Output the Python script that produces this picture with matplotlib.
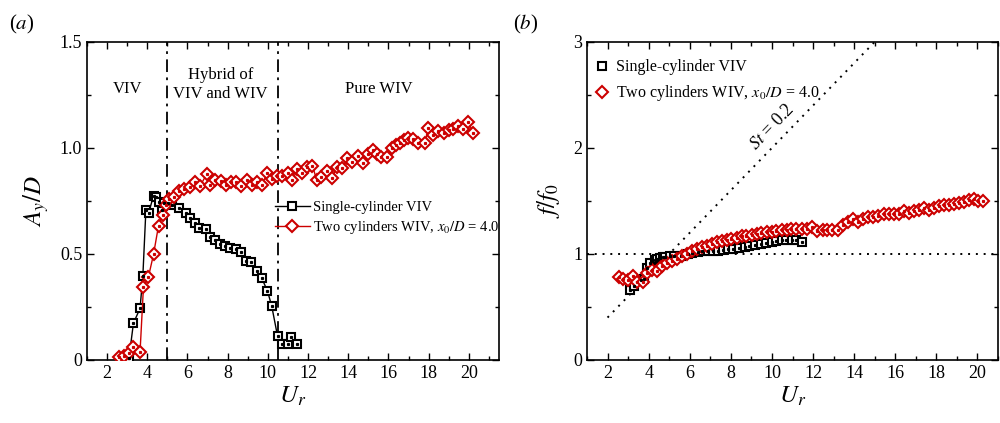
import matplotlib
matplotlib.use('Agg')
import matplotlib.pyplot as plt
from matplotlib.ticker import MultipleLocator

plt.rcParams['font.family'] = ['Liberation Serif', 'DejaVu Serif']
plt.rcParams['mathtext.fontset'] = 'stix'

RED = '#cc0000'

# single-cylinder VIV
ur_single = [3.09, 3.31, 3.64, 3.78, 3.93, 4.07, 4.31, 4.42, 4.57, 4.71, 4.81, 5.03,
             5.25, 5.58, 5.92, 6.11, 6.38, 6.58, 6.91, 7.12, 7.37, 7.62, 7.87, 8.10,
             8.39, 8.67, 8.90, 9.18, 9.48, 9.70, 9.98, 10.19, 10.48, 10.69, 10.98,
             11.17, 11.44]
ay_single = [0.01, 0.173, 0.244, 0.398, 0.706, 0.695, 0.774, 0.767, 0.747, 0.708, 0.742, 0.74,
             0.731, 0.715, 0.695, 0.668, 0.645, 0.621, 0.617, 0.579, 0.566, 0.546, 0.538, 0.530,
             0.524, 0.511, 0.467, 0.461, 0.421, 0.385, 0.325, 0.255, 0.113, 0.074, 0.074,
             0.107, 0.074]
f_single = [0.66, 0.70, 0.75, 0.76, 0.87, 0.91, 0.94, 0.95, 0.96, 0.97, 0.975, 0.98,
            0.98, 0.985, 1.0, 1.01, 1.02, 1.025, 1.025, 1.025, 1.03, 1.04, 1.047, 1.05,
            1.057, 1.065, 1.072, 1.08, 1.09, 1.10, 1.11, 1.125, 1.13, 1.13, 1.135,
            1.135, 1.11]

# two cylinders WIV, amplitude
ur_two = [2.60, 2.82, 3.09, 3.31, 3.64, 3.81, 4.06, 4.31, 4.56, 4.76, 4.92, 5.08,
          5.33, 5.58, 5.83, 6.13, 6.38, 6.63, 6.96, 7.12, 7.37, 7.66, 7.91, 8.15,
          8.40, 8.65, 8.95, 9.20, 9.45, 9.70, 9.96, 10.21, 10.44, 10.69, 10.98, 11.22,
          11.47, 11.72, 11.97, 12.22, 12.43, 12.63, 12.93, 13.21, 13.43, 13.71, 13.96, 14.21,
          14.49, 14.74, 14.99, 15.23, 15.45, 15.65, 15.95, 16.16, 16.36, 16.56, 16.78, 16.98,
          17.24, 17.49, 17.82, 17.99, 18.24, 18.47, 18.74, 19.02, 19.23, 19.48, 19.73, 19.98,
          20.21]
ay_two = [0.016, 0.02, 0.032, 0.063, 0.039, 0.346, 0.393, 0.498, 0.634, 0.684, 0.731, 0.758,
          0.770, 0.798, 0.805, 0.815, 0.841, 0.821, 0.877, 0.825, 0.849, 0.846, 0.825, 0.841,
          0.841, 0.821, 0.849, 0.825, 0.841, 0.825, 0.880, 0.852, 0.868, 0.868, 0.880, 0.849,
          0.899, 0.884, 0.912, 0.915, 0.849, 0.865, 0.893, 0.857, 0.912, 0.904, 0.951, 0.935,
          0.962, 0.931, 0.972, 0.991, 0.972, 0.956, 0.959, 0.998, 1.014, 1.025, 1.038, 1.046,
          1.041, 1.022, 1.022, 1.093, 1.061, 1.081, 1.069, 1.085, 1.088, 1.101, 1.088, 1.124,
          1.069]

# two cylinders WIV, frequency
ur_two_f = [2.57, 2.76, 3.01, 3.25, 3.45, 3.71, 3.90, 4.15, 4.42, 4.63, 4.87, 5.12,
            5.36, 5.60, 5.85, 6.09, 6.33, 6.58, 6.82, 7.06, 7.31, 7.55, 7.79, 8.03,
            8.28, 8.52, 8.76, 9.01, 9.25, 9.49, 9.74, 9.98, 10.22, 10.47, 10.71, 10.95,
            11.19, 11.47, 11.71, 11.95, 12.21, 12.46, 12.70, 12.94, 13.19, 13.46, 13.70, 13.95,
            14.19, 14.43, 14.68, 14.92, 15.16, 15.44, 15.70, 15.94, 16.18, 16.43, 16.67, 16.91,
            17.15, 17.40, 17.64, 17.88, 18.13, 18.37, 18.61, 18.86, 19.10, 19.34, 19.59, 19.83,
            20.02, 20.27]
f_two = [0.78, 0.76, 0.757, 0.79, 0.74, 0.74, 0.82, 0.845, 0.835, 0.883, 0.915, 0.93,
         0.953, 0.977, 1.0, 1.025, 1.047, 1.066, 1.078, 1.097, 1.11, 1.126, 1.135, 1.145,
         1.154, 1.166, 1.173, 1.183, 1.189, 1.199, 1.204, 1.21, 1.214, 1.23, 1.23, 1.236,
         1.236, 1.236, 1.236, 1.252, 1.214, 1.223, 1.223, 1.223, 1.23, 1.277, 1.303, 1.325,
         1.303, 1.334, 1.35, 1.35, 1.362, 1.378, 1.378, 1.372, 1.372, 1.403, 1.388, 1.403,
         1.412, 1.435, 1.419, 1.435, 1.45, 1.46, 1.466, 1.473, 1.476, 1.488, 1.507, 1.52,
         1.498, 1.498]

boundaries = [5.0, 10.5]
st = 0.2
st_ur = [2.0, 16.0]

fig = plt.figure(figsize=(10, 4.23), dpi=100)
ax1 = fig.add_axes([0.087, 0.149, 0.412, 0.752])
ax2 = fig.add_axes([0.587, 0.149, 0.411, 0.752])


def style(ax):
    ax.tick_params(which='both', direction='in', top=True, right=True,
                   labelsize=13, width=1.0)
    ax.tick_params(which='major', length=5)
    ax.tick_params(which='minor', length=3)
    ax.xaxis.set_major_locator(MultipleLocator(2))
    ax.xaxis.set_minor_locator(MultipleLocator(1))
    for s in ax.spines.values():
        s.set_linewidth(1.2)
    ax.set_xlabel('$U_r$', fontsize=18, labelpad=2)


def dots(ax, x, y, color):
    # small centre dot like the original markers
    ax.plot(x, y, ls='none', marker='s', ms=1.3, color=color, zorder=6)


SQ = dict(marker='s', ms=6.3, mfc='white', mec='k', mew=1.5)
DI = dict(marker='D', ms=5.8, mfc='white', mec=RED, mew=1.5)

# panel (a)
ax1.plot(ur_single, ay_single, color='k', lw=1.0, label='Single-cylinder VIV',
         zorder=4, **SQ)
dots(ax1, ur_single, ay_single, 'k')
ax1.plot(ur_two, ay_two, color=RED, lw=1.0, label='Two cylinders WIV, $x_0/D$ = 4.0',
         zorder=5, **DI)
dots(ax1, ur_two, ay_two, RED)
for b in boundaries:
    ax1.axvline(b, color='k', lw=1.3, ls=(0, (7, 3, 1.5, 3)), zorder=3)
ax1.text(3.0, 1.28, 'VIV', fontsize=12, ha='center', va='center')
ax1.text(7.65, 1.30, 'Hybrid of\nVIV and WIV', fontsize=12, ha='center', va='center',
         linespacing=1.25)
ax1.text(15.5, 1.28, 'Pure WIV', fontsize=12, ha='center', va='center')
ax1.set_xlim(1, 21.5)
ax1.set_ylim(0, 1.5)
style(ax1)
ax1.yaxis.set_minor_locator(MultipleLocator(0.25))
ax1.set_yticks([0, 0.5, 1.0, 1.5])
ax1.set_yticklabels(['0', '0.5', '1.0', '1.5'])
ax1.set_ylabel('$A_y/D$', fontsize=18, labelpad=6)
ax1.legend(loc='upper left', bbox_to_anchor=(0.456, 0.50), frameon=False,
           fontsize=10.5, borderpad=0, borderaxespad=0, handlelength=2.4,
           handletextpad=0.2, labelspacing=0.35)
ax1.text(-0.19, 1.02, '($a$)', transform=ax1.transAxes, fontsize=15, ha='left', va='bottom')

# panel (b)
ax2.plot(st_ur, [st * u for u in st_ur], color='k', ls=(0, (1, 3)), lw=1.4, zorder=2)
ax2.axhline(1.0, color='k', ls=(0, (1, 3)), lw=1.4, zorder=2)
ax2.plot(ur_single, f_single, ls='none', label='Single-cylinder VIV', zorder=4, **SQ)
dots(ax2, ur_single, f_single, 'k')
ax2.plot(ur_two_f, f_two, ls='none', label='Two cylinders WIV, $x_0/D$ = 4.0',
         zorder=5, **DI)
dots(ax2, ur_two_f, f_two, RED)
ax2.text(10.0, 2.2, '$St$ = 0.2', fontsize=13, rotation=46, ha='center', va='center')
ax2.set_xlim(1, 21)
ax2.set_ylim(0, 3)
style(ax2)
ax2.yaxis.set_major_locator(MultipleLocator(1))
ax2.yaxis.set_minor_locator(MultipleLocator(0.5))
ax2.set_ylabel('$f/f_0$', fontsize=18, labelpad=8)
ax2.legend(loc='upper left', bbox_to_anchor=(0.018, 0.945), frameon=False,
           fontsize=11.5, borderpad=0, borderaxespad=0, handlelength=1.0,
           handletextpad=0.35, labelspacing=0.5)
ax2.text(-0.18, 1.02, '($b$)', transform=ax2.transAxes, fontsize=15, ha='left', va='bottom')

fig.savefig('out.png', dpi=100)
